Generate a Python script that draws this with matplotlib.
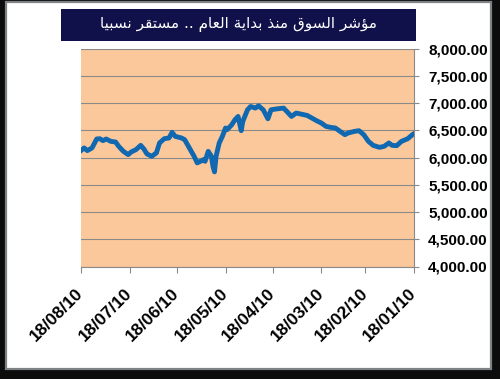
import matplotlib
matplotlib.use("Agg")
import matplotlib.pyplot as plt
import matplotlib.dates as mdates
from matplotlib.patches import Rectangle
from matplotlib.ticker import FuncFormatter, MultipleLocator
import datetime as dt

title = "مؤشر السوق منذ بداية العام .. مستقر نسبيا"

dates = ["2010-08-18", "2010-08-16", "2010-08-14", "2010-08-11", "2010-08-08", "2010-08-06",
         "2010-08-04", "2010-08-02", "2010-07-30", "2010-07-27", "2010-07-25", "2010-07-22",
         "2010-07-19", "2010-07-17", "2010-07-14", "2010-07-11", "2010-07-09", "2010-07-07",
         "2010-07-04", "2010-07-01", "2010-06-29", "2010-06-26", "2010-06-23", "2010-06-21",
         "2010-06-19", "2010-06-15", "2010-06-13", "2010-06-10", "2010-06-07", "2010-06-05",
         "2010-06-03", "2010-06-01", "2010-05-31", "2010-05-29", "2010-05-27", "2010-05-26",
         "2010-05-25", "2010-05-24", "2010-05-22", "2010-05-20", "2010-05-18", "2010-05-17",
         "2010-05-14", "2010-05-12", "2010-05-10", "2010-05-08", "2010-05-07", "2010-05-04",
         "2010-05-02", "2010-04-29", "2010-04-27", "2010-04-24", "2010-04-21", "2010-04-19",
         "2010-04-15", "2010-04-11", "2010-04-08", "2010-04-06", "2010-04-03", "2010-03-29",
         "2010-03-27", "2010-03-24", "2010-03-21", "2010-03-18", "2010-03-15", "2010-03-12",
         "2010-03-09", "2010-03-06", "2010-03-03", "2010-03-01", "2010-02-25", "2010-02-22",
         "2010-02-19", "2010-02-16", "2010-02-13", "2010-02-09", "2010-02-06", "2010-02-03",
         "2010-02-01", "2010-01-29", "2010-01-26", "2010-01-22", "2010-01-19", "2010-01-18"]

values = [6130, 6177, 6128, 6177, 6342, 6347,
          6311, 6342, 6298, 6287, 6207, 6115,
          6055, 6104, 6146, 6225, 6159, 6067,
          6024, 6086, 6269, 6347, 6360, 6463,
          6390, 6360, 6329, 6177, 6024, 5903,
          5932, 5963, 5932, 6115, 6024, 5841,
          5738, 6024, 6269, 6390, 6543, 6512,
          6604, 6695, 6756, 6494, 6664, 6878,
          6939, 6909, 6951, 6878, 6713, 6878,
          6896, 6909, 6818, 6756, 6818, 6787,
          6774, 6726, 6677, 6635, 6573, 6555,
          6543, 6481, 6421, 6451, 6481, 6494,
          6421, 6298, 6225, 6188, 6207, 6269,
          6225, 6219, 6298, 6347, 6421, 6439]

x_ticks = ["2010-08-18", "2010-07-18", "2010-06-18", "2010-05-18",
           "2010-04-18", "2010-03-18", "2010-02-18", "2010-01-18"]
y_min, y_max, y_step = 4000, 8000, 500

# --- minimal Arabic shaping (presentation forms) ---
FORMS = {  # iso, fin, ini, med
    'ؤ': ('\uFE85', '\uFE86', None, None),
    'ا': ('\uFE8D', '\uFE8E', None, None),
    'ب': ('\uFE8F', '\uFE90', '\uFE91', '\uFE92'),
    'ة': ('\uFE93', '\uFE94', None, None),
    'ت': ('\uFE95', '\uFE96', '\uFE97', '\uFE98'),
    'د': ('\uFEA9', '\uFEAA', None, None),
    'ذ': ('\uFEAB', '\uFEAC', None, None),
    'ر': ('\uFEAD', '\uFEAE', None, None),
    'س': ('\uFEB1', '\uFEB2', '\uFEB3', '\uFEB4'),
    'ش': ('\uFEB5', '\uFEB6', '\uFEB7', '\uFEB8'),
    'ع': ('\uFEC9', '\uFECA', '\uFECB', '\uFECC'),
    'ق': ('\uFED5', '\uFED6', '\uFED7', '\uFED8'),
    'ل': ('\uFEDD', '\uFEDE', '\uFEDF', '\uFEE0'),
    'م': ('\uFEE1', '\uFEE2', '\uFEE3', '\uFEE4'),
    'ن': ('\uFEE5', '\uFEE6', '\uFEE7', '\uFEE8'),
    'و': ('\uFEED', '\uFEEE', None, None),
    'ي': ('\uFEF1', '\uFEF2', '\uFEF3', '\uFEF4'),
}


def shape(s):
    out = []
    n = len(s)
    for i, c in enumerate(s):
        if c not in FORMS:
            out.append(c)
            continue
        f = FORMS[c]
        prev = s[i - 1] if i > 0 else None
        nxt = s[i + 1] if i + 1 < n else None
        pj = prev in FORMS and FORMS[prev][2] is not None
        nj = f[2] is not None and nxt in FORMS
        if pj and nj:
            out.append(f[3])
        elif pj:
            out.append(f[1])
        elif nj:
            out.append(f[2])
        else:
            out.append(f[0])
    return "".join(out)[::-1]


W, H = 500, 379
fig = plt.figure(figsize=(W / 100, H / 100), dpi=100)
fig.patch.set_facecolor('#0c0c0c')

# white panel with gray frame
fig.patches.append(Rectangle((6 / W, 1 - 369 / H), 485 / W, 367 / H, transform=fig.transFigure,
                             facecolor='white', edgecolor='#7d8284', linewidth=1.6, zorder=-5))
# title box
fig.patches.append(Rectangle((61 / W, 1 - 40.7 / H), 355 / W, 31.4 / H, transform=fig.transFigure,
                             facecolor='#10104a', edgecolor='none', zorder=-4))
fig.text(238 / W, 1 - 25 / H, shape(title), color='white', fontsize=11,
         family='DejaVu Sans', ha='center', va='center', zorder=2)

ax = fig.add_axes([81 / W, 1 - 266.5 / H, 333 / W, 217.8 / H])
ax.set_facecolor('#fbc89c')

xd = [dt.datetime.strptime(d, "%Y-%m-%d") for d in dates]
ax.plot(xd, values, color='#1068b0', linewidth=3.5, solid_joinstyle='round', zorder=3)

ax.set_xlim(dt.datetime(2010, 8, 18), dt.datetime(2010, 1, 18))
ax.set_ylim(y_min, y_max)
ax.yaxis.set_major_locator(MultipleLocator(y_step))
ax.yaxis.set_major_formatter(FuncFormatter(lambda v, p: f"{v:,.2f}"))
ax.yaxis.tick_right()
ax.grid(axis='y', color='#8c8a88', linewidth=0.8)
ax.set_axisbelow(True)

ax.set_xticks([dt.datetime.strptime(d, "%Y-%m-%d") for d in x_ticks])
ax.xaxis.set_major_formatter(mdates.DateFormatter('%d/%m/%y'))

for side in ['top', 'left']:
    ax.spines[side].set_visible(False)
for side in ['right', 'bottom']:
    ax.spines[side].set_color('#8c8a88')
    ax.spines[side].set_linewidth(0.8)

ax.tick_params(axis='both', colors='#8c8a88', width=0.8, direction='out')
ax.tick_params(axis='y', length=3.6, pad=6.5, labelcolor='black', labelsize=11)
ax.tick_params(axis='x', length=4.3, pad=13.5, labelcolor='black', labelsize=12.5)
for lab in ax.get_yticklabels():
    lab.set_family('Liberation Sans')
    lab.set_weight('bold')
for lab in ax.get_xticklabels():
    lab.set_family('Liberation Sans')
    lab.set_weight('bold')
    lab.set_rotation(45)
    lab.set_ha('right')
    lab.set_va('center')
    lab.set_rotation_mode('anchor')

fig.savefig('out.png', dpi=100, facecolor=fig.get_facecolor())
